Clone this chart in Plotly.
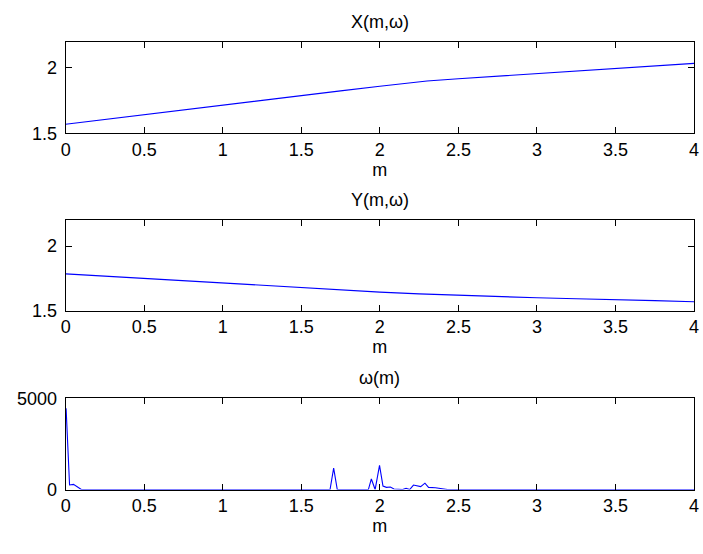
import plotly.graph_objects as go

# ---- data ----
m_x = [0, 0.25, 0.5, 0.75, 1.0, 1.25, 1.5, 1.75, 2.0, 2.1, 2.2, 2.3, 2.5, 2.75, 3.0, 3.25, 3.5, 3.75, 4.0]
X_vals = [1.570, 1.607, 1.644, 1.678, 1.713, 1.750, 1.790, 1.825, 1.860, 1.874, 1.888, 1.900, 1.918, 1.937, 1.955, 1.974, 1.993, 2.013, 2.035]

m_y = [0, 0.25, 0.5, 0.75, 1.0, 1.25, 1.5, 1.75, 2.0, 2.25, 2.5, 2.75, 3.0, 3.25, 3.5, 3.75, 4.0]
Y_vals = [1.785, 1.767, 1.748, 1.730, 1.713, 1.695, 1.678, 1.661, 1.644, 1.630, 1.619, 1.609, 1.600, 1.593, 1.587, 1.578, 1.569]

m_w = [0.003, 0.025, 0.05, 0.075, 0.1, 1.683, 1.706, 1.729, 1.927, 1.946, 1.97, 1.998, 2.02,
       2.042, 2.067, 2.09, 2.145, 2.167, 2.19, 2.214, 2.26, 2.287, 2.31, 2.354, 2.417, 2.43, 4.0]
w_vals = [4456, 250, 285, 125, 0, 0, 1180, 0, 0, 580, 0, 1325, 190,
          120, 140, 30, 0, 70, 0, 245, 160, 350, 120, 100, 20, 0, 0]

titles = ["X(m,\u03c9)", "Y(m,\u03c9)", "\u03c9(m)"]
x_ticks = [0, 0.5, 1, 1.5, 2, 2.5, 3, 3.5, 4]
x_tick_text = ["0", "0.5", "1", "1.5", "2", "2.5", "3", "3.5", "4"]

W, H = 703, 554
FONT = "Liberation Sans, Arial, Helvetica, sans-serif"
FS = 18

def py(px):
    return 1 - px / H

x_dom = [61.5 / W, 699 / W]
panels = [(33, 128), (218, 312), (403, 497.5)]

fig = go.Figure()
fig.add_trace(go.Scatter(x=m_x, y=X_vals, mode="lines", line=dict(color="#0000ff", width=1.1),
                         xaxis="x", yaxis="y", showlegend=False))
fig.add_trace(go.Scatter(x=m_y, y=Y_vals, mode="lines", line=dict(color="#0000ff", width=1.1),
                         xaxis="x2", yaxis="y2", showlegend=False))
fig.add_trace(go.Scatter(x=m_w, y=w_vals, mode="lines", line=dict(color="#0000ff", width=1.1),
                         xaxis="x3", yaxis="y3", showlegend=False))

common_x = dict(range=[0, 4], tickvals=x_ticks, ticktext=x_tick_text, ticks="inside", ticklen=6,
                tickcolor="black", showline=True, linecolor="black", linewidth=1, mirror="ticks",
                showgrid=False, zeroline=False, ticklabeloverflow="allow",
                tickfont=dict(family=FONT, size=FS, color="black"),
                title=dict(text="m", font=dict(family=FONT, size=FS, color="black"), standoff=4))
common_y = dict(ticks="inside", ticklen=6, tickcolor="black", showline=True, linecolor="black",
                linewidth=1, mirror="ticks", showgrid=False, zeroline=False, ticklabeloverflow="allow",
                ticklabelstandoff=4,
                tickfont=dict(family=FONT, size=FS, color="black"))

layout = dict(width=W, height=H, margin=dict(l=0, r=0, t=0, b=0),
              paper_bgcolor="white", plot_bgcolor="white", showlegend=False)

y_specs = [dict(range=[1.5, 2.2], tickvals=[1.5, 2], ticktext=["1.5", "2"]),
           dict(range=[1.5, 2.2], tickvals=[1.5, 2], ticktext=["1.5", "2"]),
           dict(range=[0, 5000], tickvals=[0, 5000], ticktext=["0", "5000"])]

annotations = []
for i, (top, bot) in enumerate(panels):
    suffix = "" if i == 0 else str(i + 1)
    ydom = [py(bot), py(top)]
    layout["xaxis" + suffix] = dict(common_x, domain=x_dom, anchor="y" + suffix)
    layout["yaxis" + suffix] = dict(common_y, domain=ydom, anchor="x" + suffix, **y_specs[i])
    annotations.append(dict(text=titles[i], x=(x_dom[0] + x_dom[1]) / 2, y=py(top - 21),
                            xref="paper", yref="paper", showarrow=False, xanchor="center",
                            yanchor="middle", font=dict(family=FONT, size=FS, color="black")))
layout["annotations"] = annotations

fig.update_layout(**layout)
fig.write_html("out.html", config={"displayModeBar": False},
               post_script="document.body.style.margin='0';document.body.style.overflow='hidden';")
